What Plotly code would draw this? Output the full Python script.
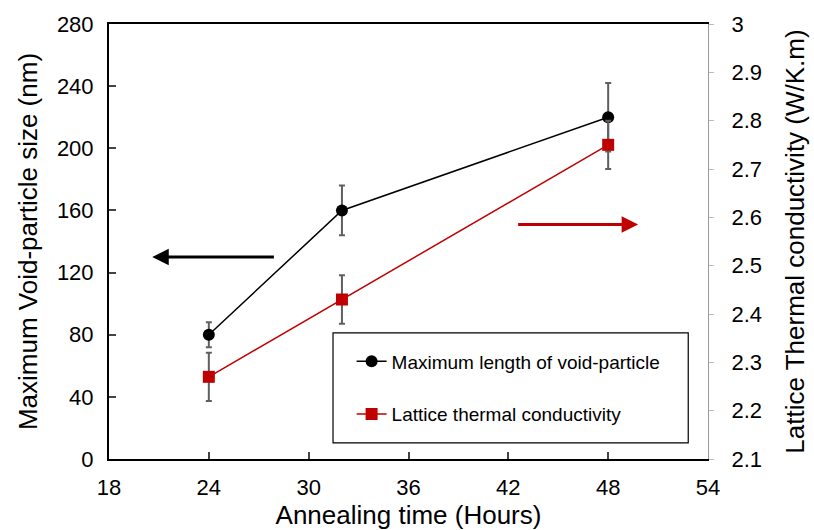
import plotly.graph_objects as go

hours = [24, 32, 48]
void_size = [80, 160, 220]
void_err = [8, 16, 22]
kappa = [2.27, 2.43, 2.75]
kappa_err = [0.05, 0.05, 0.05]

x_ticks = [18, 24, 30, 36, 42, 48, 54]
y1_ticks = [0, 40, 80, 120, 160, 200, 240, 280]
y2_ticks = [2.1, 2.2, 2.3, 2.4, 2.5, 2.6, 2.7, 2.8, 2.9, 3.0]
y2_labels = ["2.1", "2.2", "2.3", "2.4", "2.5", "2.6", "2.7", "2.8", "2.9", "3"]

FONT = "Liberation Sans, Arial, sans-serif"
ERRC = "#5f5f5f"

fig = go.Figure()
fig.add_trace(go.Scatter(
    x=hours, y=void_size, mode="lines+markers",
    name="Maximum length of void-particle", legendgroup="a",
    line=dict(color="black", width=1.5),
    marker=dict(symbol="circle", size=12, color="black"),
    error_y=dict(type="data", array=void_err, color=ERRC, thickness=2, width=3),
))
fig.add_trace(go.Scatter(
    x=hours, y=kappa, mode="lines+markers", yaxis="y2",
    name="Lattice thermal conductivity", legendgroup="b",
    line=dict(color="#c00000", width=1.5),
    marker=dict(symbol="square", size=12, color="#c00000"),
    error_y=dict(type="data", array=kappa_err, color=ERRC, thickness=2, width=3),
))

# arrows
fig.add_annotation(x=20.6, y=130, ax=28, ay=130, xref="x", yref="y", axref="x", ayref="y",
                   showarrow=True, arrowhead=2, arrowsize=1.1, arrowwidth=3, arrowcolor="black", text="")
fig.add_annotation(x=49.8, y=151, ax=42.5, ay=151, xref="x", yref="y", axref="x", ayref="y",
                   showarrow=True, arrowhead=2, arrowsize=1.1, arrowwidth=3, arrowcolor="#c00000", text="")

# legend box
fig.add_shape(type="rect", xref="paper", yref="paper", x0=0.374, x1=0.967, y0=0.037, y1=0.29,
              line=dict(color="black", width=1.2), fillcolor="white", layer="below")

fig.update_layout(
    width=814, height=530,
    margin=dict(l=109, r=106, t=24, b=71, autoexpand=False),
    paper_bgcolor="white", plot_bgcolor="rgba(0,0,0,0)",
    font=dict(family=FONT, color="black", size=22),
    showlegend=True,
    legend=dict(x=0.405, y=0.268, xanchor="left", yanchor="top",
                bgcolor="rgba(0,0,0,0)", borderwidth=0,
                font=dict(size=19, family=FONT), itemwidth=30,
                traceorder="grouped", tracegroupgap=25),
    xaxis=dict(range=[18, 54], tickvals=x_ticks, ticks="inside", ticklen=7, tickwidth=1.5,
               showline=True, linecolor="black", linewidth=2, mirror=True, showgrid=False,
               zeroline=False, tickfont=dict(size=22), ticklabelstandoff=8, automargin=False,
               title=dict(text="Annealing time (Hours)", font=dict(size=26), standoff=7)),
    yaxis=dict(range=[0, 280], tickvals=y1_ticks, ticks="inside", ticklen=7, tickwidth=1.5,
               showline=True, linecolor="black", linewidth=2, showgrid=False, zeroline=False,
               tickfont=dict(size=22), ticklabelstandoff=9, automargin=False,
               title=dict(text="Maximum Void-particle size (nm)", font=dict(size=26), standoff=12)),
    yaxis2=dict(range=[2.1, 3.0], tickvals=y2_ticks, ticktext=y2_labels, overlaying="y", side="right",
                ticks="outside", ticklen=5, tickcolor="#bbbbbb", showline=True, linecolor="#999999",
                linewidth=1, showgrid=False, zeroline=False, tickfont=dict(size=22), ticklabelstandoff=13,
                automargin=False,
                title=dict(text="Lattice Thermal conductivity (W/K.m)", font=dict(size=26), standoff=24)),
)

fig.write_html("out.html")
